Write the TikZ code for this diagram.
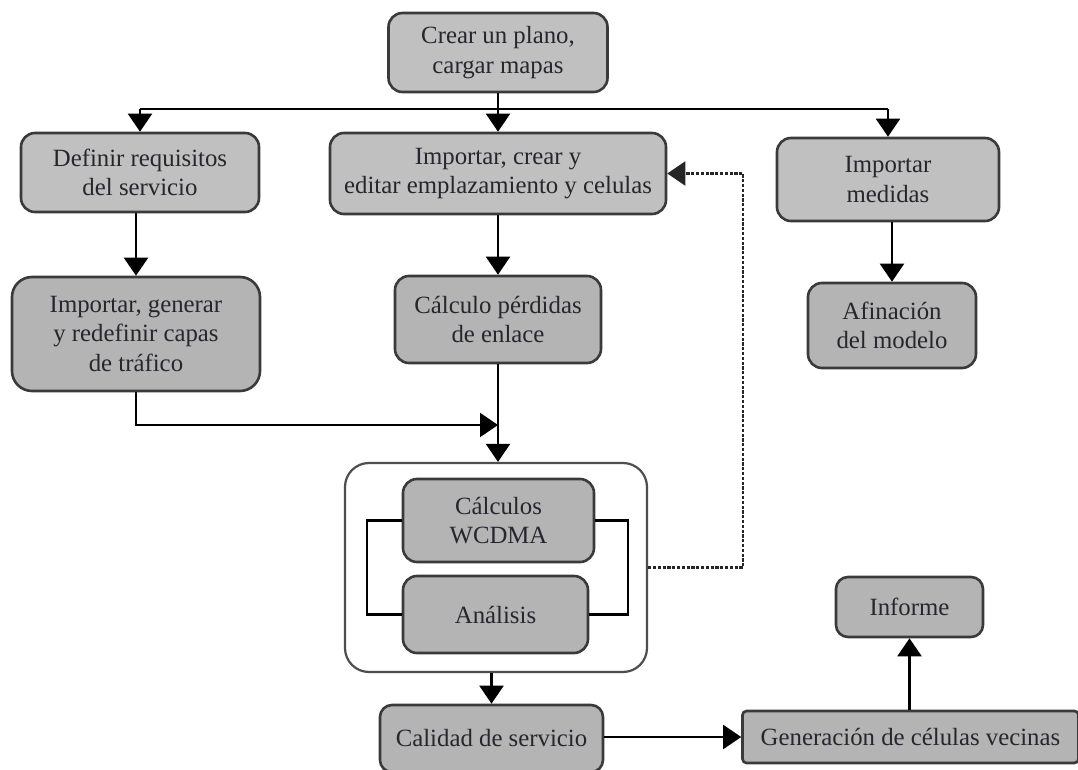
\documentclass[tikz,border=0pt]{standalone}
\usepackage{fontspec}
\setmainfont{Liberation Serif}
\usetikzlibrary{arrows.meta,calc}
\definecolor{boxline}{HTML}{3A3A3A}
\definecolor{filltop}{HTML}{C0C0C0}
\definecolor{fillbot}{HTML}{B4B4B4}
\definecolor{txt}{HTML}{26262E}
\tikzset{
  box/.style={draw=boxline, line width=1.3pt, fill=filltop, rounded corners=7pt,
    align=center, inner sep=0pt, text=txt,
    font=\fontsize{12.4}{14.6}\selectfont},
  boxd/.style={box, fill=fillbot},
  conn/.style={line width=1.05pt, draw=black},
  arr/.style={conn, -{Triangle[length=9pt,width=12pt]}},
  dots/.style={line width=1.1pt, draw=black!85, dash pattern=on 1.6pt off 0.8pt}
}
\begin{document}
\begin{tikzpicture}[x=0.5pt,y=-0.5pt]
\useasboundingbox[fill=white] (0,0) rectangle (1078,770);

% nodes
\node[box, minimum width=109.5pt, minimum height=39.5pt] (crear) at (498,52.5) {Crear un plano,\\cargar mapas};
\node[box, minimum width=119pt, minimum height=39.5pt] (definir) at (140,172.5) {Definir requisitos\\del servicio};
\node[box, minimum width=168pt, minimum height=40.5pt] (impcrear) at (498,173.5) {Importar, crear y\\editar emplazamiento y celulas};
\node[box, minimum width=111pt, minimum height=41.5pt] (medidas) at (888,179.5) {Importar\\medidas};
\node[boxd, minimum width=124pt, minimum height=57pt, rounded corners=10pt] (impgen) at (136,334) {Importar, generar\\y redefinir capas\\de tráfico};
\node[boxd, minimum width=103pt, minimum height=43.5pt] (calculo) at (498,319.5) {Cálculo pérdidas\\de enlace};
\node[boxd, minimum width=84pt, minimum height=42.5pt] (afin) at (892,325.5) {Afinación\\del modelo};

\node[draw=boxline!90, line width=1.1pt, fill=white, rounded corners=12pt,
      minimum width=151pt, minimum height=104.5pt, inner sep=0pt] (outer) at (496,567.5) {};
\node[boxd, minimum width=95.5pt, minimum height=41.5pt] (wcdma) at (498.5,520.5) {Cálculos\\WCDMA};
\node[boxd, minimum width=92.5pt, minimum height=38.5pt] (analisis) at (495.5,614.5) {Análisis};

\node[boxd, minimum width=111.5pt, minimum height=33.5pt, rounded corners=6pt] (calidad) at (491.5,738.5) {Calidad de servicio};
\node[boxd, minimum width=168pt, minimum height=26pt, rounded corners=2pt] (gen) at (910.5,737) {Generación de células vecinas};
\node[boxd, minimum width=73.5pt, minimum height=30pt, rounded corners=6pt] (informe) at (909.5,607) {Informe};

% helper coordinates
\coordinate (hl) at (0,109);
\coordinate (j2) at (0,425);
\coordinate (xL) at (367,0);
\coordinate (xR) at (628,0);
\coordinate (xD) at (743,0);

% top distribution
\draw[conn] (crear.south) -- (crear.south |- hl);
\draw[conn] (definir.north |- hl) -- (medidas.north |- hl);
\draw[arr] (definir.north |- hl) -- (definir.north);
\draw[arr] (impcrear.north |- hl) -- (impcrear.north);
\draw[arr] (medidas.north |- hl) -- (medidas.north);

% columns
\draw[arr] (definir.south -| impgen.north) -- (impgen.north);
\draw[arr] (impcrear.south) -- (calculo.north);
\draw[arr] (afin.north |- medidas.south) -- (afin.north);

\draw[arr] (impgen.south) |- (calculo.south |- j2);
\draw[arr] (calculo.south) -- (calculo.south |- outer.north);

% inner loop
\draw[conn, line width=1.3pt] (wcdma.west) -- (wcdma.west -| xL) |- (analisis.west);
\draw[conn, line width=1.3pt] (wcdma.east) -- (wcdma.east -| xR) |- (analisis.east);

% feedback
\draw[dots, -{Triangle[length=9pt,width=12pt]}] (outer.east) -- (outer.east -| xD) |- (impcrear.east);

% bottom
\draw[arr] (outer.south -| calidad.north) -- (calidad.north);
\draw[arr] (calidad.east |- gen.west) -- (gen.west);
\draw[arr] (informe.south |- gen.north) -- (informe.south);
\end{tikzpicture}
\end{document}
